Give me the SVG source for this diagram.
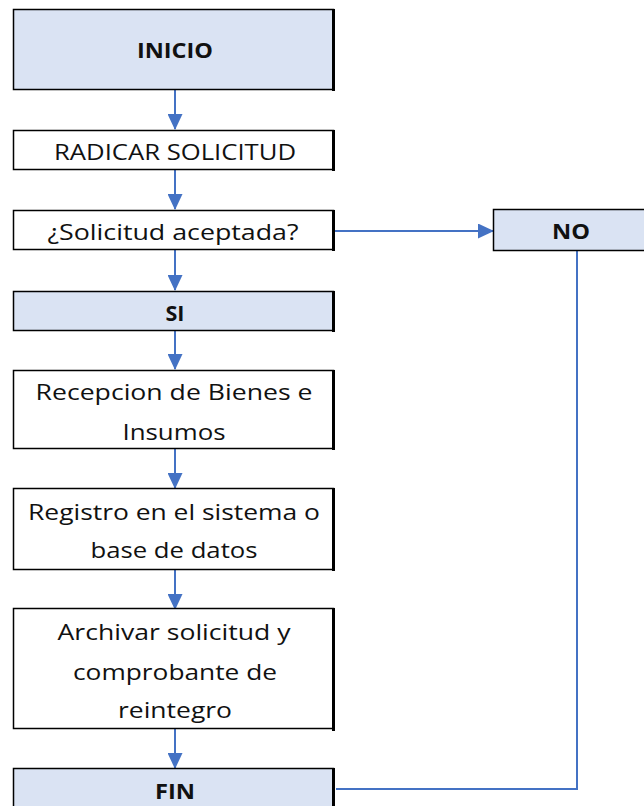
<svg xmlns="http://www.w3.org/2000/svg" width="644" height="806" viewBox="0 0 644 806">
<style>
.box{stroke:#000;stroke-width:1.5}
.hl{fill:#dae3f3}
.pl{fill:#fff}
.rb{stroke:#000;stroke-width:3}
text{font-family:"Open Sans","Liberation Sans",sans-serif;font-size:22px;fill:#111;text-anchor:middle}
.b{font-weight:bold;font-size:21px}
.c{stroke:#4472c4;stroke-width:2;fill:none}
</style>
<defs>
<marker id="ah2" markerWidth="16" markerHeight="15" refX="15" refY="7.5" orient="auto" markerUnits="userSpaceOnUse" viewBox="0 0 16 15">
<path d="M0,0 L16,7.5 L0,15 Z" fill="#4472c4"/>
</marker>
</defs>
<g id="connectors">
<line class="c" x1="175" y1="90" x2="175" y2="129" marker-end="url(#ah2)"/>
<line class="c" x1="175" y1="170" x2="175" y2="209" marker-end="url(#ah2)"/>
<line class="c" x1="175" y1="250" x2="175" y2="290" marker-end="url(#ah2)"/>
<line class="c" x1="175" y1="331" x2="175" y2="369" marker-end="url(#ah2)"/>
<line class="c" x1="175" y1="449" x2="175" y2="488" marker-end="url(#ah2)"/>
<line class="c" x1="175" y1="570" x2="175" y2="609" marker-end="url(#ah2)"/>
<line class="c" x1="175" y1="729" x2="175" y2="768" marker-end="url(#ah2)"/>
<line class="c" x1="335" y1="231" x2="493" y2="231" marker-end="url(#ah2)"/>
<polyline class="c" points="577,251 577,789 336,789"/>
</g>
<g id="inicio">
<rect class="box hl" x="13.5" y="9.5" width="320" height="80"/>
<line class="rb" x1="333.5" y1="9" x2="333.5" y2="91"/>
<text class="b" x="175" y="58" textLength="76" lengthAdjust="spacingAndGlyphs">INICIO</text>
</g>
<g id="radicar">
<rect class="box pl" x="13.5" y="130.5" width="320" height="39"/>
<line class="rb" x1="333.5" y1="130" x2="333.5" y2="171"/>
<text x="175" y="160" textLength="242" lengthAdjust="spacingAndGlyphs">RADICAR SOLICITUD</text>
</g>
<g id="aceptada">
<rect class="box pl" x="13.5" y="210.5" width="320" height="39"/>
<line class="rb" x1="333.5" y1="210" x2="333.5" y2="251"/>
<text x="173" y="240" textLength="251" lengthAdjust="spacingAndGlyphs">¿Solicitud aceptada?</text>
</g>
<g id="no">
<rect class="box hl" x="493.5" y="209.5" width="160" height="41"/>
<text class="b" x="571" y="239" textLength="38" lengthAdjust="spacingAndGlyphs">NO</text>
</g>
<g id="si">
<rect class="box hl" x="13.5" y="291.5" width="320" height="39"/>
<line class="rb" x1="333.5" y1="291" x2="333.5" y2="332"/>
<text class="b" x="175" y="321" textLength="19" lengthAdjust="spacingAndGlyphs">SI</text>
</g>
<g id="recepcion">
<rect class="box pl" x="13.5" y="370.5" width="320" height="78"/>
<line class="rb" x1="333.5" y1="370" x2="333.5" y2="450"/>
<text x="174" y="400" textLength="277" lengthAdjust="spacingAndGlyphs">Recepcion de Bienes e</text>
<text x="174" y="440" textLength="103" lengthAdjust="spacingAndGlyphs">Insumos</text>
</g>
<g id="registro">
<rect class="box pl" x="13.5" y="488.5" width="320" height="81"/>
<line class="rb" x1="333.5" y1="488" x2="333.5" y2="571"/>
<text x="174" y="520" textLength="292" lengthAdjust="spacingAndGlyphs">Registro en el sistema o</text>
<text x="174" y="558" textLength="167" lengthAdjust="spacingAndGlyphs">base de datos</text>
</g>
<g id="archivar">
<rect class="box pl" x="13.5" y="608.5" width="320" height="120"/>
<line class="rb" x1="333.5" y1="608" x2="333.5" y2="731"/>
<text x="174" y="640" textLength="233" lengthAdjust="spacingAndGlyphs">Archivar solicitud y</text>
<text x="175" y="680" textLength="204" lengthAdjust="spacingAndGlyphs">comprobante de</text>
<text x="175" y="718" textLength="114" lengthAdjust="spacingAndGlyphs">reintegro</text>
</g>
<g id="fin">
<rect class="box hl" x="13.5" y="768.5" width="320" height="45"/>
<line class="rb" x1="333.5" y1="768" x2="333.5" y2="806"/>
<text class="b" x="175" y="799" textLength="40" lengthAdjust="spacingAndGlyphs">FIN</text>
</g>
</svg>
